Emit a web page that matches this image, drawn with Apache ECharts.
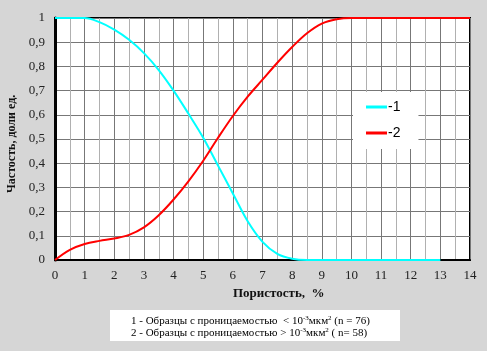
<!DOCTYPE html>
<html><head><meta charset="utf-8">
<script src="https://cdn.jsdelivr.net/npm/echarts@6/dist/echarts.min.js"></script>
<style>html,body{margin:0;padding:0;background:#d6d6d6}#c{width:487px;height:351px}</style>
</head><body><div id="c"></div>
<script>
var porosity1 = [0,0.5,1,1.5,2,2.5,3,3.5,4,4.5,5,5.5,6,6.5,7,7.5,8,8.5,9,9.5,10,10.5,11,11.5,12,12.5,13];
var series1 = [1,1,1,0.983,0.952,0.91,0.855,0.785,0.70,0.605,0.505,0.39,0.275,0.16,0.075,0.025,0.005,0,0,0,0,0,0,0,0,0,0];
var porosity2 = [0,0.5,1,1.5,2,2.5,3,3.5,4,4.5,5,5.5,6,6.5,7,7.5,8,8.5,9,9.5,10,10.5,11,11.5,12,12.5,13,13.5,14];
var series2 = [0,0.042,0.066,0.079,0.089,0.104,0.135,0.185,0.25,0.325,0.41,0.505,0.595,0.675,0.745,0.815,0.88,0.937,0.977,0.995,1,1,1,1,1,1,1,1,1];
var seriesNames = ['-1','-2'];
var xTitle = 'Пористость,  %';
var yTitle = 'Частость, доли ед.';
var note1 = ['1 - Образцы с проницаемостью  < 10','-3','мкм','2',' (n = 76)'];
var note2 = ['2 - Образцы с проницаемостью > 10','-3','мкм','2',' ( n= 58)'];

function pairs(xs, ys){ return xs.map(function(x,i){return [x, ys[i]];}); }
var serif = '"Liberation Serif","Times New Roman",serif';
var chart = echarts.init(document.getElementById('c'));
var richSup = {
  n:{fontFamily:serif,fontSize:11,color:'#111'},
  s:{fontFamily:serif,fontSize:7,color:'#111',verticalAlign:'top',padding:[0,0,6,0]}
};
function noteText(a){ return '{n|'+a[0]+'}{s|'+a[1]+'}{n|'+a[2]+'}{s|'+a[3]+'}{n|'+a[4]+'}'; }
chart.setOption({
  backgroundColor:'#d6d6d6',
  animation:false,
  grid:{left:55,right:17,top:18,bottom:91,show:true,backgroundColor:'#fff',borderColor:'#000',borderWidth:2},
  xAxis:{type:'value',min:0,max:14,interval:1,
    axisLine:{show:true,lineStyle:{color:'#000',width:2}},axisTick:{show:false},
    axisLabel:{fontFamily:serif,fontSize:13,color:'#222',margin:9},
    splitLine:{show:true,lineStyle:{color:'#777',width:1}},
    minorTick:{show:false,splitNumber:2},
    minorSplitLine:{show:true,lineStyle:{color:'#b0b0b0',width:1}}
  },
  yAxis:{type:'value',min:0,max:1,interval:0.1,
    axisLine:{show:true,lineStyle:{color:'#000',width:3}},axisTick:{show:false},
    axisLabel:{fontFamily:serif,fontSize:13,color:'#222',margin:10,
      formatter:function(v){ if(v===0) return '0'; if(v===1) return '1'; return v.toFixed(1).replace('.',','); }},
    splitLine:{show:true,lineStyle:{color:'#777',width:1}}
  },
  legend:{data:seriesNames,orient:'vertical',left:353,top:92,
    backgroundColor:'#fff',padding:[8,18,9,13],itemGap:12,
    icon:'rect',itemWidth:21,itemHeight:3,
    textStyle:{fontFamily:'"Liberation Sans",Arial,sans-serif',fontSize:14,color:'#000',padding:[0,0,0,-4]}
  },
  series:[
    {name:seriesNames[0],type:'line',data:pairs(porosity1,series1),smooth:0.35,showSymbol:false,
      lineStyle:{color:'#00ffff',width:2},itemStyle:{color:'#00ffff'},z:3},
    {name:seriesNames[1],type:'line',data:pairs(porosity2,series2),smooth:0.35,showSymbol:false,
      lineStyle:{color:'#ff0000',width:2},itemStyle:{color:'#ff0000'},z:4}
  ],
  graphic:[
    {type:'text',left:233,top:287,style:{text:xTitle,font:'bold 13px '+serif,fill:'#111'}},
    {type:'text',x:6,y:193,rotation:Math.PI/2,style:{text:yTitle,font:'bold 12px '+serif,fill:'#111'}},
    {type:'rect',shape:{x:110,y:310,width:290,height:31},style:{fill:'#fff'}},
    {type:'text',x:131,y:315,style:{text:noteText(note1),rich:richSup}},
    {type:'text',x:131,y:327,style:{text:noteText(note2),rich:richSup}}
  ]
});
</script></body></html>
